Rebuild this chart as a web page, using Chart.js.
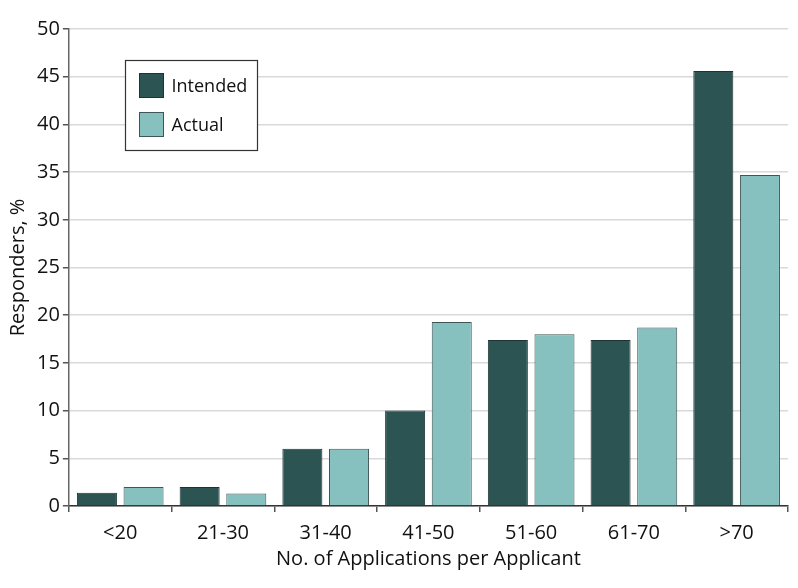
<!DOCTYPE html>
<html>
<head>
<meta charset="utf-8">
<script src="https://cdn.jsdelivr.net/npm/chart.js@4"></script>
<style>
html,body{margin:0;padding:0;background:#fff;}
#wrap{width:798px;height:588px;}
</style>
</head>
<body>
<div id="wrap"><canvas id="c" width="798" height="588"></canvas></div>
<script>
// data
const categories=['<20','21-30','31-40','41-50','51-60','61-70','>70'];
const intended=[1.4,2.0,6.0,10.0,17.4,17.4,45.6];
const actual=[2.0,1.3,6.0,19.3,18.0,18.7,34.7];
const yTicks=[0,5,10,15,20,25,30,35,40,45,50];

const FONT='"Open Sans", sans-serif';
const DARK='#2b5452', LIGHT='#86c1c0';

// legend with a frame, drawn inside the plot area
const boxLegend={
  id:'boxLegend',
  afterDraw(chart){
    const ctx=chart.ctx;
    const x=125.5,y=60.5,w=132,h=90;
    ctx.save();
    ctx.fillStyle='#fff';
    ctx.fillRect(x,y,w,h);
    ctx.strokeStyle='#333';
    ctx.lineWidth=1.2;
    ctx.strokeRect(x,y,w,h);
    ctx.font='18px '+FONT;
    ctx.textBaseline='middle';
    chart.data.datasets.forEach((ds,i)=>{
      const sy=y+13+i*39;
      ctx.fillStyle=ds.backgroundColor;
      ctx.fillRect(x+14,sy,24,24);
      ctx.strokeStyle=ds.borderColor;
      ctx.lineWidth=1;
      ctx.strokeRect(x+14,sy,24,24);
      ctx.fillStyle='#111';
      ctx.fillText(ds.label,x+46,sy+13);
    });
    ctx.restore();
  }
};

new Chart(document.getElementById('c'),{
  type:'bar',
  data:{
    labels:categories,
    datasets:[
      {label:'Intended',data:intended,backgroundColor:DARK,borderColor:'#1d3433',borderWidth:1},
      {label:'Actual',data:actual,backgroundColor:LIGHT,borderColor:'#3f5655',borderWidth:1}
    ]
  },
  options:{
    responsive:false,
    animation:false,
    devicePixelRatio:1,
    layout:{padding:{top:29,right:10,left:2,bottom:19}},
    categoryPercentage:0.908,
    barPercentage:0.858,
    plugins:{legend:{display:false},tooltip:{enabled:false}},
    scales:{
      x:{
        grid:{drawOnChartArea:false,offset:true,tickLength:6,tickColor:'#555',lineWidth:1.5},
        border:{color:'#333',width:1.5},
        ticks:{color:'#111',font:{family:FONT,size:20},padding:9},
        title:{display:true,text:'No. of Applications per Applicant',color:'#111',font:{family:FONT,size:20,lineHeight:1},padding:{top:-5,bottom:0}}
      },
      y:{
        min:0,max:50,
        afterBuildTicks(axis){axis.ticks=yTicks.map(v=>({value:v}));},
        grid:{color:'#d9d9d9',lineWidth:1.5,tickLength:6,tickColor:'#555'},
        border:{color:'#666',width:1.5},
        ticks:{color:'#111',font:{family:FONT,size:20},padding:3},
        title:{display:true,text:'Responders, %',color:'#111',font:{family:FONT,size:20},padding:{bottom:4}}
      }
    }
  },
  plugins:[boxLegend]
});
</script>
</body>
</html>
